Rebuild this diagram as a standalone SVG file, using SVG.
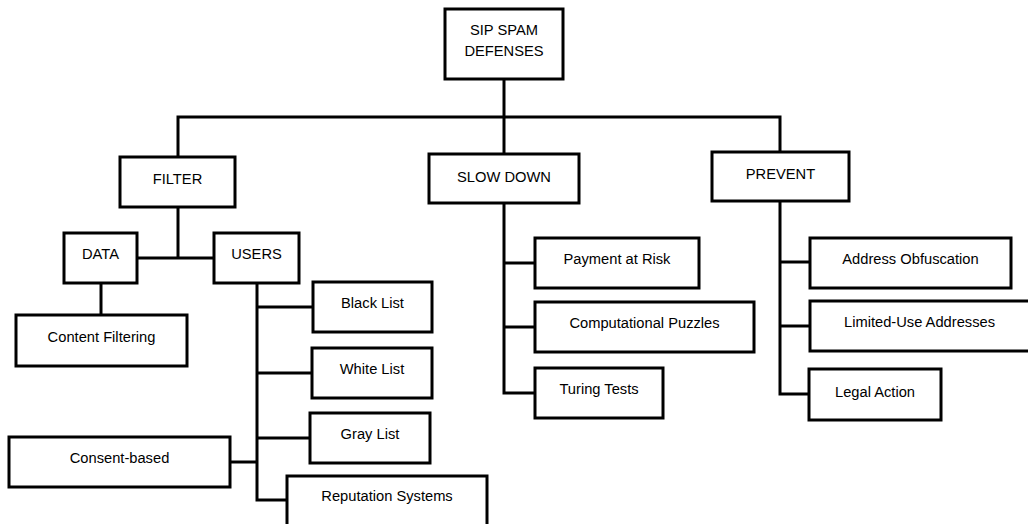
<svg xmlns="http://www.w3.org/2000/svg" width="1028" height="524" viewBox="0 0 1028 524">
<style>
.box{fill:#fff;stroke:#000;stroke-width:3}
.c{fill:none;stroke:#000;stroke-width:3}
text{font-family:"Liberation Sans",Arial,sans-serif;font-size:14.7px;fill:#000;text-anchor:middle}
</style>
<rect width="1028" height="524" fill="#fff"/>
<g id="connectors">
<path class="c" d="M504,79 V154"/>
<path class="c" d="M178,157 V117 H780 V152"/>
<path class="c" d="M178,207 V258"/>
<path class="c" d="M137,258 H214"/>
<path class="c" d="M101,283 V315"/>
<path class="c" d="M257,283 V500 H287"/>
<path class="c" d="M257,307 H313"/>
<path class="c" d="M257,373 H312"/>
<path class="c" d="M257,438 H310"/>
<path class="c" d="M230,462 H257"/>
<path class="c" d="M504,203 V393 H535"/>
<path class="c" d="M504,263 H535"/>
<path class="c" d="M504,327 H535"/>
<path class="c" d="M780,201 V394 H809"/>
<path class="c" d="M780,262 H810"/>
<path class="c" d="M780,326 H810"/>
</g>
<g id="sip"><rect class="box" x="445" y="9" width="118" height="70"/><text x="504" y="35">SIP SPAM</text><text x="504" y="56">DEFENSES</text></g>
<g id="filter"><rect class="box" x="120" y="157" width="115" height="50"/><text x="177.5" y="184">FILTER</text></g>
<g id="slowdown"><rect class="box" x="429" y="154" width="150" height="49"/><text x="504" y="182">SLOW DOWN</text></g>
<g id="prevent"><rect class="box" x="712" y="152" width="137" height="49"/><text x="780.5" y="179">PREVENT</text></g>
<g id="data"><rect class="box" x="64" y="233" width="73" height="50"/><text x="100.5" y="259">DATA</text></g>
<g id="users"><rect class="box" x="214" y="233" width="85" height="50"/><text x="256.5" y="259">USERS</text></g>
<g id="contentfiltering"><rect class="box" x="16" y="315" width="171" height="51"/><text x="101.5" y="342">Content Filtering</text></g>
<g id="blacklist"><rect class="box" x="313" y="282" width="119" height="50"/><text x="372.5" y="308">Black List</text></g>
<g id="whitelist"><rect class="box" x="312" y="348" width="120" height="50"/><text x="372" y="374">White List</text></g>
<g id="graylist"><rect class="box" x="310" y="413" width="120" height="50"/><text x="370" y="439">Gray List</text></g>
<g id="consent"><rect class="box" x="9" y="437" width="221" height="50"/><text x="119.5" y="463">Consent-based</text></g>
<g id="reputation"><rect class="box" x="287" y="476" width="200" height="52"/><text x="387" y="501">Reputation Systems</text></g>
<g id="payment"><rect class="box" x="535" y="238" width="164" height="50"/><text x="617" y="264">Payment at Risk</text></g>
<g id="puzzles"><rect class="box" x="535" y="302" width="219" height="50"/><text x="644.5" y="328">Computational Puzzles</text></g>
<g id="turing"><rect class="box" x="535" y="368" width="128" height="50"/><text x="599" y="394">Turing Tests</text></g>
<g id="obfuscation"><rect class="box" x="810" y="238" width="201" height="50"/><text x="910.5" y="264">Address Obfuscation</text></g>
<g id="limiteduse"><rect class="box" x="810" y="301" width="222" height="50"/><text x="919.5" y="327">Limited-Use Addresses</text></g>
<g id="legal"><rect class="box" x="809" y="369" width="132" height="51"/><text x="875" y="397">Legal Action</text></g>
</svg>
